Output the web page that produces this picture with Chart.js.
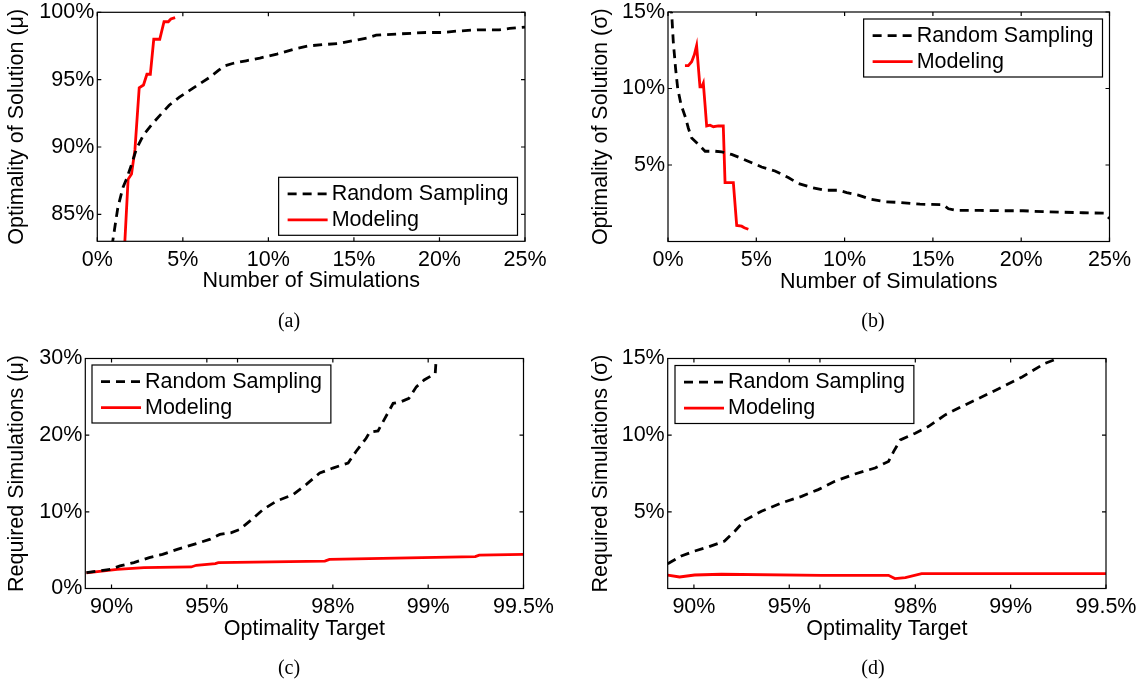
<!DOCTYPE html>
<html>
<head>
<meta charset="utf-8">
<script src="https://cdn.jsdelivr.net/npm/chart.js@4.4.0/dist/chart.umd.min.js"></script>
<style>
body { margin: 0; background: #fff; }
#fig { position: relative; width: 1144px; height: 682px; overflow: hidden; }
#fig canvas { position: absolute; }
.cap { position: absolute; font-family: "Liberation Serif", "Times New Roman", serif; font-size: 20px; color: #000; transform: translate(-50%, -50%); }
</style>
</head>
<body>
<div id="fig">
  <canvas id="cA" width="572" height="341" style="left:0;top:0"></canvas>
  <canvas id="cB" width="572" height="341" style="left:572px;top:0"></canvas>
  <canvas id="cC" width="572" height="341" style="left:0;top:341px"></canvas>
  <canvas id="cD" width="572" height="341" style="left:572px;top:341px"></canvas>
  <div class="cap" style="left:289px;top:320px">(a)</div>
  <div class="cap" style="left:873px;top:320px">(b)</div>
  <div class="cap" style="left:289px;top:667px">(c)</div>
  <div class="cap" style="left:873px;top:667px">(d)</div>
</div>
<script>
// (a) optimality mean vs number of simulations (%)
const rsA_x = [0.8, 0.9, 1.2, 1.5, 1.7, 2.0, 2.3, 2.7, 3.2, 3.7, 4.2, 4.8, 5.4, 6.0, 6.6, 7.1, 7.4, 7.9, 8.7, 9.5, 10.5, 11.6, 12.3, 13.2, 14.2, 15.0, 15.8, 16.3, 17.7, 19.2, 20.2, 21.0, 22.2, 23.5, 24.1, 25.0];
const rsA_y = [81.5, 83.0, 85.5, 87.0, 87.6, 88.7, 89.9, 90.9, 91.7, 92.4, 93.1, 93.7, 94.2, 94.7, 95.2, 95.7, 96.0, 96.2, 96.4, 96.6, 96.9, 97.3, 97.5, 97.6, 97.7, 97.9, 98.1, 98.3, 98.4, 98.5, 98.5, 98.6, 98.7, 98.7, 98.8, 98.9];
const mdA_x = [1.55, 1.8, 2.0, 2.2, 2.45, 2.7, 2.9, 3.1, 3.3, 3.65, 3.9, 4.15, 4.3, 4.55];
const mdA_y = [81.5, 87.6, 88.0, 89.8, 94.4, 94.6, 95.4, 95.4, 98.0, 98.0, 99.3, 99.3, 99.5, 99.6];

// (b) optimality sigma vs number of simulations (%)
const rsB_x = [0.18, 0.3, 0.43, 0.55, 0.74, 1.0, 1.15, 1.34, 1.72, 2.1, 2.66, 3.04, 3.6, 4.17, 4.74, 5.3, 6.06, 6.81, 7.38, 8.14, 8.89, 9.64, 10.12, 10.78, 11.44, 12.29, 13.14, 14.27, 15.59, 15.88, 16.35, 17.67, 18.99, 20.1, 21.25, 22.2, 23.5, 24.7, 25.0];
const rsB_y = [15.5, 13.05, 11.3, 10.0, 8.94, 8.07, 7.42, 6.77, 6.34, 5.9, 5.9, 5.86, 5.69, 5.43, 5.15, 4.87, 4.61, 4.18, 3.79, 3.53, 3.35, 3.35, 3.2, 3.03, 2.77, 2.6, 2.55, 2.44, 2.4, 2.14, 2.03, 2.03, 2.01, 2.01, 1.95, 1.92, 1.88, 1.85, 1.5];
const mdB_x = [0.96, 1.15, 1.34, 1.49, 1.62, 1.81, 1.91, 2.0, 2.1, 2.19, 2.38, 2.57, 2.85, 3.13, 3.23, 3.7, 3.89, 4.17, 4.32, 4.55];
const mdB_y = [11.5, 11.5, 11.75, 12.2, 12.8, 10.1, 10.1, 10.35, 8.9, 7.55, 7.6, 7.5, 7.55, 7.55, 3.85, 3.85, 1.05, 1.0, 0.9, 0.8];

// (c) required simulations (mean) vs optimality target
const rsC_t = [88.0, 89.9, 90.6, 91.5, 92.4, 93.1, 93.8, 94.5, 95.1, 95.45, 95.8, 96.06, 96.34, 96.68, 96.98, 97.33, 97.57, 97.8, 98.0, 98.21, 98.31, 98.43, 98.47, 98.56, 98.63, 98.71, 98.78, 98.85, 98.91, 98.97, 99.05, 99.06];
const rsC_y = [2.08, 2.5, 2.94, 3.38, 4.03, 4.45, 5.1, 5.75, 6.4, 7.05, 7.27, 7.7, 8.78, 10.3, 11.38, 12.25, 13.55, 15.06, 15.71, 16.36, 17.87, 19.6, 20.39, 20.56, 22.2, 24.15, 24.36, 24.8, 26.3, 27.2, 28.05, 31];
const mdC_t = [88.0, 90.4, 92.1, 94.4, 94.6, 95.3, 95.4, 97.88, 97.95, 99.29, 99.31, 99.5];
const mdC_y = [2.05, 2.5, 2.73, 2.81, 3.03, 3.25, 3.38, 3.58, 3.8, 4.16, 4.36, 4.45];

// (d) required simulations (sigma) vs optimality target
const rsD_t = [87.9, 89.04, 90.05, 90.97, 92.0, 92.57, 93.09, 93.88, 94.71, 95.43, 95.95, 96.41, 96.9, 97.32, 97.57, 97.66, 97.77, 98.0, 98.18, 98.39, 98.57, 98.77, 98.94, 99.08, 99.22, 99.28, 99.3];
const rsD_y = [1.62, 2.12, 2.44, 2.7, 3.09, 3.74, 4.45, 5.04, 5.58, 6.01, 6.45, 6.99, 7.47, 7.86, 8.29, 8.94, 9.69, 10.13, 10.56, 11.32, 11.86, 12.5, 13.16, 13.8, 14.68, 14.95, 15.3];
const mdD_t = [87.9, 88.9, 90.05, 91.81, 96.05, 97.57, 97.68, 97.85, 98.09, 99.3, 99.5];
const mdD_y = [0.88, 0.75, 0.88, 0.93, 0.86, 0.86, 0.65, 0.71, 0.97, 0.97, 0.97];

// ticks
const simTicks = [0, 5, 10, 15, 20, 25];
const simLabels = ['0%', '5%', '10%', '15%', '20%', '25%'];
const aTicksY = [85, 90, 95, 100];
const bTicksY = [5, 10, 15];
const cTicksY = [0, 10, 20, 30];
const dTicksY = [5, 10, 15];
const targetTicks = [90, 95, 96, 98, 99, 99.5];
const targetLabels = ['90%', '95%', '', '98%', '99%', '99.5%'];

const FONT = '"Liberation Sans", Arial, Helvetica, sans-serif';
const FS = 21.5;

function pairs(xs, ys) {
    return xs.map((x, i) => ({ x: x, y: ys[i] }));
}

// target axis is drawn on a reversed log scale of the gap to 100%
function gapPairs(ts, ys) {
    return ts.map((t, i) => ({ x: 100 - t, y: ys[i] }));
}

function lineSet(label, pts, dashed) {
    return {
        label: label,
        data: pts,
        borderColor: dashed ? '#000000' : '#ff0000',
        borderWidth: 2.8,
        borderDash: dashed ? [9, 6] : [],
        pointRadius: 0,
        tension: 0,
        fill: false,
        clip: 0
    };
}

// matlab style box with inward ticks
const frame = {
    id: 'frame',
    afterDatasetsDraw(chart) {
        const { ctx, chartArea: a, scales } = chart;
        ctx.save();
        ctx.strokeStyle = '#000';
        ctx.lineWidth = 1.2;
        ctx.strokeRect(a.left, a.top, a.right - a.left, a.bottom - a.top);
        ctx.beginPath();
        scales.x.ticks.forEach(t => {
            const p = scales.x.getPixelForValue(t.value);
            ctx.moveTo(p, a.bottom); ctx.lineTo(p, a.bottom - 4);
            ctx.moveTo(p, a.top); ctx.lineTo(p, a.top + 4);
        });
        scales.y.ticks.forEach(t => {
            const p = scales.y.getPixelForValue(t.value);
            ctx.moveTo(a.left, p); ctx.lineTo(a.left + 4, p);
            ctx.moveTo(a.right, p); ctx.lineTo(a.right - 4, p);
        });
        ctx.stroke();
        ctx.restore();
    }
};

const boxLegend = {
    id: 'boxLegend',
    afterDraw(chart, args, opts) {
        const { ctx, chartArea: a } = chart;
        ctx.save();
        ctx.font = FS + 'px ' + FONT;
        let tw = 0;
        chart.data.datasets.forEach(ds => { tw = Math.max(tw, ctx.measureText(ds.label).width); });
        const w = 53 + tw + 9, h = 58;
        const x = opts.corner.includes('r') ? a.right - opts.inset - w : a.left + opts.inset;
        const y = opts.corner.includes('b') ? a.bottom - opts.insetY - h : a.top + opts.insetY;
        ctx.fillStyle = '#fff';
        ctx.fillRect(x, y, w, h);
        ctx.strokeStyle = '#000';
        ctx.lineWidth = 1.2;
        ctx.strokeRect(x, y, w, h);
        chart.data.datasets.forEach((ds, i) => {
            const cy = y + 16.6 + i * 26;
            ctx.beginPath();
            ctx.setLineDash(ds.borderDash);
            ctx.lineWidth = ds.borderWidth;
            ctx.strokeStyle = ds.borderColor;
            ctx.moveTo(x + 9, cy);
            ctx.lineTo(x + 49, cy);
            ctx.stroke();
            ctx.setLineDash([]);
            ctx.fillStyle = '#000';
            ctx.textBaseline = 'middle';
            ctx.textAlign = 'left';
            ctx.fillText(ds.label, x + 53, cy);
        });
        ctx.restore();
    }
};

function makePanel(id, p) {
    const font = { family: FONT, size: FS };
    new Chart(document.getElementById(id), {
        type: 'line',
        data: { datasets: p.data },
        options: {
            responsive: false,
            animation: false,
            devicePixelRatio: 1,
            events: [],
            layout: { padding: p.pad },
            scales: {
                x: {
                    type: p.xType,
                    min: p.xMin,
                    max: p.xMax,
                    reverse: p.xReverse,
                    position: 'bottom',
                    grid: { display: false, drawTicks: false },
                    border: { display: false },
                    ticks: {
                        color: '#000', font: font, padding: 6, maxRotation: 0, autoSkip: false,
                        callback: (v, i) => p.xLabels[i]
                    },
                    title: { display: true, text: p.xTitle, color: '#000', font: font, padding: { top: 0, bottom: 0 } },
                    afterBuildTicks: s => { s.ticks = p.xTicks.map(v => ({ value: v })); },
                    afterFit: s => { s.height = 53; s.paddingLeft = 0; s.paddingRight = 0; }
                },
                y: {
                    type: 'linear',
                    min: p.yMin,
                    max: p.yMax,
                    position: 'left',
                    grid: { display: false, drawTicks: false },
                    border: { display: false },
                    ticks: { color: '#000', font: font, padding: 3, callback: v => v + '%' },
                    title: { display: true, text: p.yTitle, color: '#000', font: font, padding: { top: 4, bottom: 0 } },
                    afterBuildTicks: s => { s.ticks = p.yTicks.map(v => ({ value: v })); },
                    afterFit: s => { s.width = p.yw; s.paddingTop = 0; s.paddingBottom = 0; }
                }
            },
            plugins: {
                legend: { display: false },
                tooltip: { enabled: false },
                boxLegend: p.legend
            }
        },
        plugins: [frame, boxLegend]
    });
}

makePanel('cA', {
    pad: { left: 0, top: 12.3, right: 47, bottom: 46.7 }, yw: 97.3,
    xType: 'linear', xMin: 0, xMax: 25, xReverse: false, xTicks: simTicks, xLabels: simLabels,
    yMin: 83, yMax: 100, yTicks: aTicksY,
    xTitle: 'Number of Simulations', yTitle: 'Optimality of Solution (μ)',
    data: [lineSet('Random Sampling', pairs(rsA_x, rsA_y), true), lineSet('Modeling', pairs(mdA_x, mdA_y), false)],
    legend: { corner: 'br', inset: 7.5, insetY: 6 }
});

makePanel('cB', {
    pad: { left: 12, top: 12, right: 34.5, bottom: 46.5 }, yw: 84,
    xType: 'linear', xMin: 0, xMax: 25, xReverse: false, xTicks: simTicks, xLabels: simLabels,
    yMin: 0, yMax: 15, yTicks: bTicksY,
    xTitle: 'Number of Simulations', yTitle: 'Optimality of Solution (σ)',
    data: [lineSet('Random Sampling', pairs(rsB_x, rsB_y), true), lineSet('Modeling', pairs(mdB_x, mdB_y), false)],
    legend: { corner: 'tr', inset: 7, insetY: 7 }
});

makePanel('cC', {
    pad: { left: 0, top: 17.5, right: 48.5, bottom: 40.5 }, yw: 85.3,
    xType: 'logarithmic', xMin: 0.5, xMax: 12.1, xReverse: true, xTicks: targetTicks.map(t => 100 - t), xLabels: targetLabels,
    yMin: 0, yMax: 30, yTicks: cTicksY,
    xTitle: 'Optimality Target', yTitle: 'Required Simulations (μ)',
    data: [lineSet('Random Sampling', gapPairs(rsC_t, rsC_y), true), lineSet('Modeling', gapPairs(mdC_t, mdC_y), false)],
    legend: { corner: 'tl', inset: 6.7, insetY: 6.5 }
});

makePanel('cD', {
    pad: { left: 12, top: 17.5, right: 38, bottom: 40.5 }, yw: 83.7,
    xType: 'logarithmic', xMin: 0.5, xMax: 12.1, xReverse: true, xTicks: targetTicks.map(t => 100 - t), xLabels: targetLabels,
    yMin: 0, yMax: 15, yTicks: dTicksY,
    xTitle: 'Optimality Target', yTitle: 'Required Simulations (σ)',
    data: [lineSet('Random Sampling', gapPairs(rsD_t, rsD_y), true), lineSet('Modeling', gapPairs(mdD_t, mdD_y), false)],
    legend: { corner: 'tl', inset: 7.3, insetY: 7 }
});
</script>
</body>
</html>
